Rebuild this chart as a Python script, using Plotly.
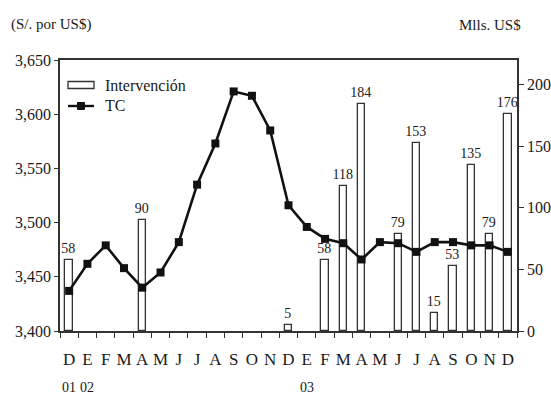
import plotly.graph_objects as go

# ---- data ----
months = ["D", "E", "F", "M", "A", "M", "J", "J", "A", "S", "O", "N",
          "D", "E", "F", "M", "A", "M", "J", "J", "A", "S", "O", "N", "D"]
tc = [3437, 3462, 3479, 3458, 3440, 3454, 3482, 3535, 3573, 3621, 3617, 3585,
      3516, 3496, 3485, 3481, 3466, 3482, 3481, 3473, 3482, 3482, 3479, 3479, 3473]
interv = [58, None, None, None, 90, None, None, None, None, None, None, None,
          5, None, 58, 118, 184, None, 79, 153, 15, 53, 135, 79, 176]
year_labels = ["01", "02", "03"]
year_idx = [0, 1, 13]
left_ticks = [3400, 3450, 3500, 3550, 3600, 3650]
right_ticks = [0, 50, 100, 150, 200]

x = list(range(len(months)))
FONT = "Liberation Serif"
INK = "#1a1a1a"

# plot area in pixels
L, R, T, B = 60, 517, 60, 331
W, H = 551, 396


def px(xp):
    return (xp - L) / (R - L)


def py(yp):
    return (B - yp) / (B - T)


fig = go.Figure()

fig.add_trace(go.Bar(
    x=x, y=interv, yaxis="y", xaxis="x",
    width=0.4,
    marker=dict(color="white", line=dict(color="#333333", width=1.3)),
    text=[("" if v is None else str(v)) for v in interv],
    textposition="outside",
    constraintext="none",
    textfont=dict(family=FONT, size=14, color=INK),
    cliponaxis=False,
    showlegend=False,
    name="Intervención",
))

fig.add_trace(go.Scatter(
    x=x, y=tc, yaxis="y2", xaxis="x",
    mode="lines+markers",
    line=dict(color="#111111", width=2.6),
    marker=dict(symbol="square", size=8, color="#111111"),
    showlegend=False,
    name="TC",
))

fig.update_layout(
    width=W, height=H,
    margin=dict(l=L, r=W - R, t=T, b=H - B, autoexpand=False),
    paper_bgcolor="white", plot_bgcolor="white",
    font=dict(family=FONT, color=INK),
    bargap=0,
    xaxis=dict(
        automargin=False,
        range=[-0.5, len(months) - 0.5],
        tickmode="array", tickvals=x, ticktext=months,
        ticks="", showgrid=False, zeroline=False,
        showline=True, linecolor="#333333", linewidth=1.5, mirror=True,
        tickfont=dict(family=FONT, size=17, color=INK),
        ticklabelstandoff=12,
        minor=dict(tickmode="array",
                   tickvals=[i - 0.5 for i in range(len(months) + 1)],
                   ticks="outside", ticklen=5, tickcolor="#333333", tickwidth=1.3),
    ),
    yaxis=dict(
        automargin=False,
        side="right", range=[0, 220],
        tickmode="array", tickvals=right_ticks,
        ticks="outside", ticklen=5, tickcolor="#333333", tickwidth=1.3,
        showgrid=False, zeroline=False,
        showline=True, linecolor="#333333", linewidth=1.5,
        tickfont=dict(family=FONT, size=16, color=INK),
    ),
    yaxis2=dict(
        automargin=False,
        side="left", overlaying="y", range=[3400, 3650],
        tickmode="array", tickvals=left_ticks, tickformat=",d",
        ticks="outside", ticklen=4, tickcolor="#333333", tickwidth=1.3,
        showgrid=False, zeroline=False,
        showline=True, linecolor="#333333", linewidth=1.5,
        tickfont=dict(family=FONT, size=16, color=INK),
    ),
)

annotations = [
    dict(text="(S/. por US$)", xref="paper", yref="paper", x=px(9), y=py(25),
         xanchor="left", yanchor="middle", showarrow=False,
         font=dict(family=FONT, size=15, color=INK)),
    dict(text="Mlls. US$", xref="paper", yref="paper", x=px(523), y=py(25),
         xanchor="right", yanchor="middle", showarrow=False,
         font=dict(family=FONT, size=15, color=INK)),
    dict(text="Intervención", xref="paper", yref="paper", x=px(103), y=py(85),
         xanchor="left", yanchor="middle", showarrow=False,
         font=dict(family=FONT, size=16, color=INK)),
    dict(text="TC", xref="paper", yref="paper", x=px(103), y=py(105),
         xanchor="left", yanchor="middle", showarrow=False,
         font=dict(family=FONT, size=16, color=INK)),
]
for lab, i in zip(year_labels, year_idx):
    annotations.append(dict(text=lab, xref="x", yref="paper", x=i, y=py(387),
                            xanchor="center", yanchor="middle", showarrow=False,
                            font=dict(family=FONT, size=14, color=INK)))

shapes = [
    dict(type="rect", xref="paper", yref="paper",
         x0=px(68), x1=px(94), y0=py(88.5), y1=py(81.5),
         line=dict(color="#333333", width=1.3), fillcolor="white"),
    dict(type="line", xref="paper", yref="paper",
         x0=px(68), x1=px(94), y0=py(106), y1=py(106),
         line=dict(color="#111111", width=2.4)),
    dict(type="rect", xref="paper", yref="paper",
         x0=px(77.5), x1=px(84.5), y0=py(109.5), y1=py(102.5),
         line=dict(color="#111111", width=1), fillcolor="#111111"),
]

fig.update_layout(annotations=annotations, shapes=shapes)

fig.write_html("out.html")
